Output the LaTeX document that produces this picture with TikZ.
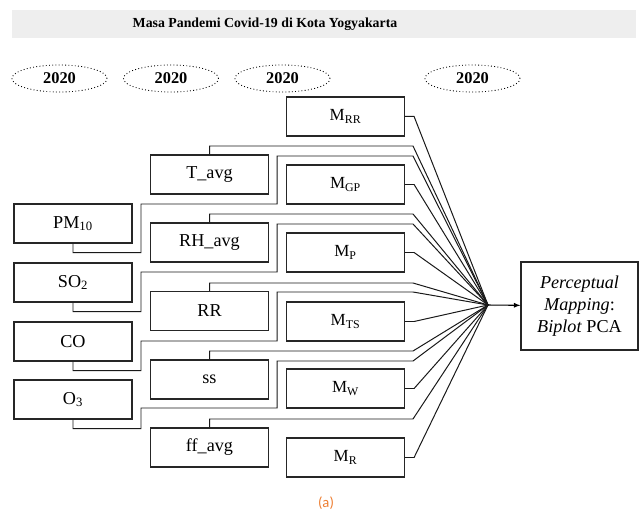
\documentclass[tikz,border=0pt]{standalone}
\usepackage{fontspec}
\setmainfont{Liberation Serif}
\newfontfamily\capfont{Carlito}
\usepackage{xcolor}
\usetikzlibrary{shapes.geometric, arrows, positioning, calc}
\definecolor{capcol}{HTML}{ED7D31}
\definecolor{band}{HTML}{EEEEEE}
\tikzstyle{arrow}     = [line width=0.9pt,->,>=latex]
\tikzset{every node/.style={align=center}}

\begin{document}
\begin{tikzpicture}[x=0.03cm, y=-0.03cm,
    box/.style={draw=black!85, line width=1pt, minimum width=3.54cm, minimum height=1.17cm, inner sep=0pt, font=\fontsize{15.5}{18}\selectfont},
    mbox/.style={box, font=\fontsize{14.5}{17}\selectfont},
    yr/.style={ellipse, draw=black, dotted, line width=0.75pt, minimum width=2.85cm, minimum height=0.81cm, inner sep=0pt, font=\fontsize{14}{16}\bfseries},
    wire/.style={draw=black!90, line width=0.85pt}
]
  \useasboundingbox (0,0) rectangle (641,511);
  % Header band
  \fill[band] (12,10) rectangle (636,38);
  \node[font=\fontsize{11.8}{14}\bfseries] (title) at (265,24) {Masa Pandemi Covid-19 di Kota Yogyakarta};
  % Years
  \node[yr] (y1) at (59.5,78.5)  {2020};
  \node[yr] (y2) at (171,78.5)   {2020};
  \node[yr] (y3) at (282.5,78.5) {2020};
  \node[yr] (y4) at (472.5,78.5) {2020};
  % Pollutants
  \node[box] (pm) at (73,223.5) {PM\textsubscript{10}};
  \node[box] (so) at (73,282.5) {SO\textsubscript{2}};
  \node[box] (co) at (73,341.5) {CO};
  \node[box] (oo) at (73,399.5) {O\textsubscript{3}};
  % Weather
  \node[box] (tavg) at (209.5,174.5) {T\_avg};
  \node[box] (rh)   at (209.5,242.5) {RH\_avg};
  \node[box] (rr)   at (209.5,311)   {RR};
  \node[box] (ss)   at (209.5,379.5) {ss};
  \node[box] (ff)   at (209.5,447.5) {ff\_avg};
  % Mobility
  \node[mbox] (mrr) at (345.5,116.5) {M\textsubscript{RR}};
  \node[mbox] (mgp) at (345.5,184.5) {M\textsubscript{GP}};
  \node[mbox] (mp)  at (345.5,252.5) {M\textsubscript{P}};
  \node[mbox] (mts) at (345.5,321.5) {M\textsubscript{TS}};
  \node[mbox] (mw)  at (345.5,388.5) {M\textsubscript{W}};
  \node[mbox] (mr)  at (345.5,457.5) {M\textsubscript{R}};
  % Output
  \node[draw=black!85, line width=1pt, minimum width=3.51cm, minimum height=2.64cm, inner sep=0pt,
        font=\fontsize{15.5}{19}\selectfont] (pca) at (579.5,306)
        {\textit{Perceptual}\\\textit{Mapping}:\\\textit{Biplot} PCA};
  \coordinate (hub) at (488,305);
  % Wires
  \foreach \m in {mrr,mgp,mp,mts,mw,mr}
      \draw[wire] (\m.east) -- ++(9,0) -- (hub);
  \foreach \n/\y in {tavg/146,rh/214,rr/283,ss/351,ff/419}
      \draw[wire] (\n.north) |- (413,\y) -- (hub);
  \foreach \n/\ya/\yb in {pm/204/156,so/272/224,co/341/292,oo/408/361}
      \draw[wire] (\n.south) -- ++(0,9) -| (141,\ya) -| (277,\yb) -- (413,\yb) -- (hub);
  \draw[arrow] (hub) -- (pca);
  % Caption
  \node[font=\capfont\fontsize{12.5}{14}\selectfont, text=capcol] (cap) at (326,503) {(a)};
\end{tikzpicture}
\end{document}
